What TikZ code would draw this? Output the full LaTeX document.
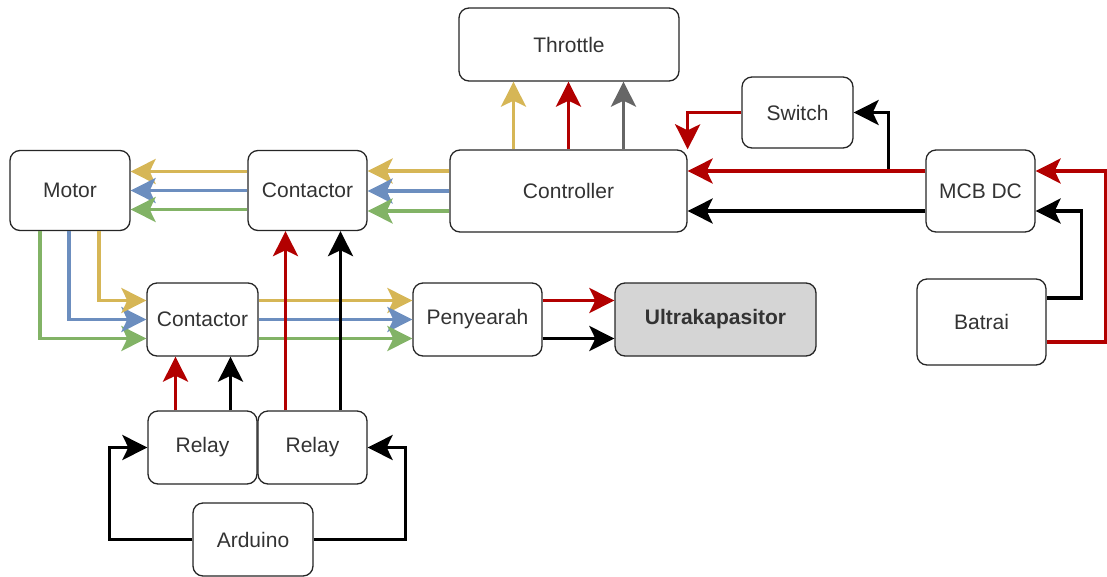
\documentclass[tikz,border=0pt]{standalone}
\usepackage{fontspec}
\setmainfont{Liberation Sans}
\usetikzlibrary{arrows.meta}
\definecolor{cyel}{HTML}{D6B656}
\definecolor{cblu}{HTML}{6C8EBF}
\definecolor{cgrn}{HTML}{82B366}
\definecolor{cred}{HTML}{B20000}
\definecolor{cgry}{HTML}{666666}
\definecolor{cfill}{HTML}{D5D5D5}
\begin{document}
\begin{tikzpicture}[x=1pt,y=-1pt,
  box/.style={draw=black!85, line width=1.3pt, rounded corners=10pt, fill=white,
    inner sep=0pt, text=black!80, font=\fontsize{21}{24}\selectfont},
  ar/.style={line width=3.5pt, -{Stealth[length=25pt,width=25pt,inset=6pt]}},
  yel/.style={ar, draw=cyel}, blu/.style={ar, draw=cblu}, grn/.style={ar, draw=cgrn},
  red/.style={ar, draw=cred}, blk/.style={ar, draw=black}, gry/.style={ar, draw=cgry}]
\useasboundingbox (0,0) rectangle (1107,576);
% nodes
\node[box, minimum width=220pt, minimum height=73pt] (thr) at (569,44.5) {Throttle};
\node[box, minimum width=111pt, minimum height=71pt] (sw) at (797.5,112.5) {Switch};
\node[box, minimum width=120pt, minimum height=80pt] (motor) at (70,190.5) {Motor};
\node[box, minimum width=119pt, minimum height=80pt] (cont1) at (307.5,190.5) {Contactor};
\node[box, minimum width=237pt, minimum height=82pt] (ctrl) at (568.5,191) {Controller};
\node[box, minimum width=109pt, minimum height=82pt] (mcb) at (980.5,191) {MCB DC};
\node[box, minimum width=111pt, minimum height=73pt] (cont2) at (202.5,319.5) {Contactor};
\node[box, minimum width=129pt, minimum height=73pt] (peny) at (477.5,319.5) {Penyearah};
\node[box, minimum width=201pt, minimum height=73pt, fill=cfill, font=\fontsize{21}{24}\selectfont\bfseries] (ultra) at (715.5,319.5) {Ultrakapasitor};
\node[box, minimum width=129pt, minimum height=86pt] (bat) at (981.5,322) {Batrai};
\node[box, minimum width=109pt, minimum height=73pt] (rel1) at (202.5,447.5) {Relay};
\node[box, minimum width=109pt, minimum height=73pt] (rel2) at (312.5,447.5) {Relay};
\node[box, minimum width=120pt, minimum height=73pt] (ard) at (253,539.5) {Arduino};
% controller -> throttle
\draw[yel] ([xshift=-55pt]ctrl.north) -- ([xshift=-55pt]ctrl.north |- thr.south);
\draw[red] (ctrl.north) -- (ctrl.north |- thr.south);
\draw[gry] ([xshift=55pt]ctrl.north) -- ([xshift=55pt]ctrl.north |- thr.south);
% controller -> contactor 1
\draw[yel] ([yshift=20pt]ctrl.west) -- ([yshift=20pt]ctrl.west -| cont1.east);
\draw[blu] (ctrl.west) -- (ctrl.west -| cont1.east);
\draw[grn] ([yshift=-20pt]ctrl.west) -- ([yshift=-20pt]ctrl.west -| cont1.east);
% contactor 1 -> motor
\draw[yel] ([yshift=19pt]cont1.west) -- ([yshift=19pt]cont1.west -| motor.east);
\draw[blu] (cont1.west) -- (cont1.west -| motor.east);
\draw[grn] ([yshift=-19pt]cont1.west) -- ([yshift=-19pt]cont1.west -| motor.east);
% motor -> contactor 2
\draw[grn] ([xshift=-30pt]motor.south) |- ([yshift=-19pt]cont2.west);
\draw[blu] ([xshift=-1pt]motor.south) |- (cont2.west);
\draw[yel] ([xshift=29pt]motor.south) |- ([yshift=19pt]cont2.west);
% contactor 2 -> penyearah
\draw[yel] ([yshift=19pt]cont2.east) -- ([yshift=19pt]peny.west);
\draw[blu] (cont2.east) -- (peny.west);
\draw[grn] ([yshift=-19pt]cont2.east) -- ([yshift=-19pt]peny.west);
% penyearah -> ultrakapasitor
\draw[red] ([yshift=19pt]peny.east) -- ([yshift=19pt]ultra.west);
\draw[blk] ([yshift=-19pt]peny.east) -- ([yshift=-19pt]ultra.west);
% relays -> contactors
\draw[red] ([xshift=-27pt]rel1.north) -- ([xshift=-27pt]cont2.south);
\draw[blk] ([xshift=28pt]rel1.north) -- ([xshift=28pt]cont2.south);
\draw[red] ([xshift=-27pt]rel2.north) -- ([xshift=-27pt]rel2.north |- cont1.south);
\draw[blk] ([xshift=28pt]rel2.north) -- ([xshift=28pt]rel2.north |- cont1.south);
% arduino -> relays
\draw[blk] (ard.west) -- ++(-83,0) |- (rel1.west);
\draw[blk] (ard.east) -- ++(92,0) |- (rel2.east);
% MCB -> switch (branch) and controller
\draw[blk] ([yshift=20pt]mcb.west) -- ++(-37,0) |- (sw.east);
\draw[red] ([yshift=20pt]mcb.west) -- ([yshift=20pt]mcb.west -| ctrl.east);
\draw[blk] ([yshift=-20pt]mcb.west) -- ([yshift=-20pt]mcb.west -| ctrl.east);
% switch -> controller
\draw[red] (sw.west) -| (ctrl.north east);
% batrai -> MCB
\draw[blk] ([yshift=24pt]bat.east) -- ++(35,0) |- ([yshift=-20pt]mcb.east);
\draw[red] ([yshift=-20pt]bat.east) -- ++(59.5,0) |- ([yshift=20pt]mcb.east);
\end{tikzpicture}
\end{document}
